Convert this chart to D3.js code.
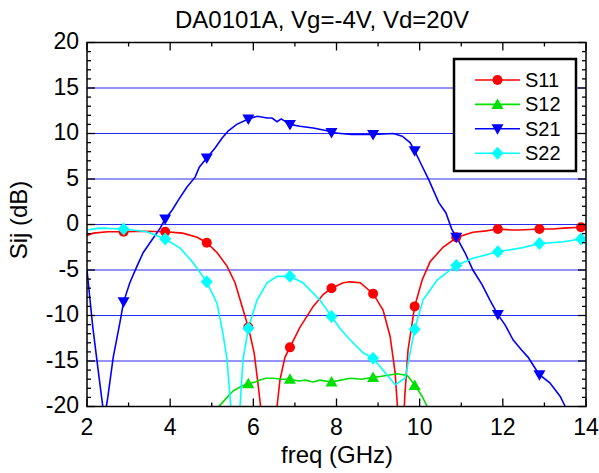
<!DOCTYPE html>
<html>
<head>
<meta charset="utf-8">
<script src="https://cdn.jsdelivr.net/npm/d3@7"></script>
<style>
body { margin: 0; background: #fff; }
svg text { font-family: "Liberation Sans", Arial, sans-serif; fill: #000; }
</style>
</head>
<body>
<svg id="chart" width="599" height="473"></svg>
<script>
// data (freq in GHz, values in dB)
var s11F = [2.0, 2.15, 2.5, 2.88, 3.4, 3.88, 4.3, 4.65, 4.88, 5.13, 5.37, 5.56, 5.73, 5.88, 6.02, 6.11, 6.2, 6.36, 6.5, 6.57, 6.64, 6.76, 6.88, 7.12, 7.44, 7.68, 7.88, 8.16, 8.33, 8.57, 8.88, 9.12, 9.29, 9.41, 9.48, 9.54, 9.6, 9.64, 9.72, 9.88, 10.06, 10.25, 10.56, 10.9, 11.28, 11.6, 11.88, 12.2, 12.41, 12.88, 13.2, 13.45, 13.88, 14.0];
var s11V = [-1.2, -0.95, -0.8, -0.8, -0.75, -0.8, -0.95, -1.4, -2.0, -3.1, -4.6, -6.4, -9.0, -11.3, -14.1, -17.4, -21, -35, -24, -20, -17.1, -14.6, -13.5, -11.3, -9.0, -7.7, -7.0, -6.4, -6.3, -6.4, -7.6, -9.4, -12.3, -16.3, -21, -30, -24, -19, -13.8, -9.0, -6.1, -4.1, -2.5, -1.4, -0.85, -0.7, -0.5, -0.6, -0.6, -0.5, -0.5, -0.4, -0.3, -0.3];
var s11MF = [2.88, 3.88, 4.88, 5.88, 6.88, 7.88, 8.88, 9.88, 10.88, 11.88, 12.88, 13.88];
var s11MV = [-0.8, -0.8, -2.0, -11.3, -13.5, -7.0, -7.6, -9.0, -1.4, -0.5, -0.5, -0.3];

var s12F = [5.1, 5.17, 5.37, 5.51, 5.7, 5.88, 6.05, 6.16, 6.3, 6.47, 6.7, 6.88, 7.1, 7.25, 7.44, 7.6, 7.88, 8.1, 8.33, 8.6, 8.88, 9.05, 9.2, 9.46, 9.7, 9.88, 10.06, 10.18, 10.25];
var s12V = [-21, -20, -19.0, -18.3, -17.8, -17.5, -17.3, -17.1, -16.9, -16.9, -17.0, -17.0, -17.2, -17.1, -17.3, -17.1, -17.3, -17.1, -16.9, -17.0, -16.8, -16.7, -16.6, -16.4, -16.6, -17.6, -18.9, -20, -21];
var s12MF = [5.88, 6.88, 7.88, 8.88, 9.88];
var s12MV = [-17.5, -17.0, -17.3, -16.8, -17.7];

var s21F = [2.0, 2.14, 2.26, 2.38, 2.43, 2.5, 2.63, 2.79, 2.88, 3.03, 3.2, 3.35, 3.56, 3.76, 3.88, 4.05, 4.2, 4.4, 4.6, 4.7, 4.88, 5.08, 5.25, 5.4, 5.6, 5.88, 6.1, 6.33, 6.45, 6.57, 6.67, 6.88, 7.12, 7.44, 7.77, 7.88, 8.1, 8.36, 8.88, 9.37, 9.58, 9.77, 9.88, 10.06, 10.22, 10.46, 10.63, 10.77, 10.9, 11.1, 11.28, 11.5, 11.69, 11.88, 12.05, 12.25, 12.45, 12.61, 12.75, 12.88, 13.13, 13.38, 13.5, 13.6];
var s21V = [-5, -11.3, -15.7, -20, -21, -19, -14.6, -10.8, -8.5, -6.4, -4.6, -3.1, -1.7, -0.4, 0.6, 1.6, 2.7, 4.1, 5.2, 6.3, 7.3, 8.4, 9.5, 10.3, 11.0, 11.6, 11.9, 11.7, 11.7, 11.3, 11.6, 11.0, 10.8, 10.6, 10.3, 10.1, 10.0, 9.9, 9.9, 10.0, 9.7, 9.0, 8.1, 6.4, 4.9, 2.4, 1.3, -0.5, -1.5, -3.2, -5.0, -6.6, -8.3, -9.9, -11.0, -12.7, -13.8, -14.6, -15.6, -16.5, -17.4, -18.9, -20, -21];
var s21MF = [2.88, 3.88, 4.88, 5.88, 6.88, 7.88, 8.88, 9.88, 10.88, 11.88, 12.88];
var s21MV = [-8.5, 0.6, 7.3, 11.6, 11.0, 10.1, 9.9, 8.1, -1.4, -9.9, -16.5];

var s22F = [2.0, 2.3, 2.88, 3.44, 3.88, 4.24, 4.55, 4.88, 5.13, 5.27, 5.37, 5.42, 5.46, 5.56, 5.65, 5.68, 5.75, 5.88, 6.09, 6.33, 6.57, 6.88, 7.19, 7.6, 7.88, 8.08, 8.33, 8.64, 8.88, 9.17, 9.41, 9.65, 9.88, 10.08, 10.42, 10.88, 11.28, 11.88, 12.41, 12.88, 13.45, 13.88, 14.0];
var s22V = [-0.6, -0.4, -0.5, -0.8, -1.6, -2.6, -4.2, -6.3, -8.7, -12, -14.9, -17.9, -20, -32, -22, -20, -14.9, -11.4, -8.3, -6.4, -5.7, -5.7, -6.4, -8.3, -10.1, -11.4, -12.7, -14.1, -14.7, -16.3, -17.6, -16.9, -11.5, -8.3, -6.1, -4.5, -3.7, -3.0, -2.6, -2.1, -1.9, -1.6, -1.5];
var s22MF = [2.88, 3.88, 4.88, 5.88, 6.88, 7.88, 8.88, 9.88, 10.88, 11.88, 12.88, 13.88];
var s22MV = [-0.5, -1.6, -6.3, -11.4, -5.7, -10.1, -14.7, -11.5, -4.5, -3.0, -2.1, -1.6];

var names = ["S11", "S12", "S21", "S22"];
var colors = ["#ff0000", "#00e000", "#0000ff", "#00ffff"];
var shapes = ["circle", "up", "down", "diamond"];
var xTicks = [2, 4, 6, 8, 10, 12, 14];
var yTicks = [-20, -15, -10, -5, 0, 5, 10, 15, 20];
var gridVals = [-15, -10, -5, 0, 5, 10, 15];

var series = [
	{f: s11F, v: s11V, mf: s11MF, mv: s11MV},
	{f: s12F, v: s12V, mf: s12MF, mv: s12MV},
	{f: s21F, v: s21V, mf: s21MF, mv: s21MV},
	{f: s22F, v: s22V, mf: s22MF, mv: s22MV}
];

var svg = d3.select("#chart");
var pLeft = 87, pRight = 586, pTop = 42.5, pBottom = 406.5;

var x = d3.scaleLinear().domain([2, 14]).range([pLeft, pRight]);
var y = d3.scaleLinear().domain([-20, 20]).range([pBottom, pTop]);

svg.append("defs").append("clipPath").attr("id", "clip")
	.append("rect").attr("x", pLeft).attr("y", pTop).attr("width", pRight-pLeft).attr("height", pBottom-pTop);

// grid
svg.selectAll(".grid").data(gridVals).enter().append("line")
	.attr("x1", pLeft).attr("x2", pRight)
	.attr("y1", function(d) { return y(d); }).attr("y2", function(d) { return y(d); })
	.style("stroke", "#2a2aee").style("stroke-width", 1);

function marker(g, shape, color, px, py) {
	if (shape == "circle") {
		g.append("circle").attr("cx", px).attr("cy", py).attr("r", 5).style("fill", color);
	} else if (shape == "up") {
		g.append("path").attr("d", "M" + px + "," + (py-6) + "L" + (px+6) + "," + (py+4.5) + "L" + (px-6) + "," + (py+4.5) + "Z").style("fill", color);
	} else if (shape == "down") {
		g.append("path").attr("d", "M" + px + "," + (py+6) + "L" + (px+6) + "," + (py-4.5) + "L" + (px-6) + "," + (py-4.5) + "Z").style("fill", color);
	} else {
		g.append("path").attr("d", "M" + px + "," + (py-6.5) + "L" + (px+6) + "," + py + "L" + px + "," + (py+6.5) + "L" + (px-6) + "," + py + "Z").style("fill", color);
	}
}

var plot = svg.append("g").attr("clip-path", "url(#clip)");
var line = d3.line().x(function(d) { return x(d[0]); }).y(function(d) { return y(d[1]); });

series.forEach(function(s, i) {
	var pts = s.f.map(function(f, k) { return [f, s.v[k]]; });
	plot.append("path").attr("d", line(pts))
		.style("fill", "none").style("stroke", colors[i]).style("stroke-width", 1.6);
});
series.forEach(function(s, i) {
	s.mf.forEach(function(f, k) {
		marker(plot, shapes[i], colors[i], x(f), y(s.mv[k]));
	});
});

// frame
svg.append("rect").attr("x", pLeft).attr("y", pTop).attr("width", pRight-pLeft).attr("height", pBottom-pTop)
	.style("fill", "none").style("stroke", "#000").style("stroke-width", 1.5);

// ticks inward on all sides
var xAll = d3.range(2, 14.01, 1);
xAll.forEach(function(v) {
	var len = (v % 2 == 0) ? 8 : 4;
	svg.append("line").attr("x1", x(v)).attr("x2", x(v)).attr("y1", pBottom).attr("y2", pBottom-len).style("stroke", "#000").style("stroke-width", 1.3);
	svg.append("line").attr("x1", x(v)).attr("x2", x(v)).attr("y1", pTop).attr("y2", pTop+len).style("stroke", "#000").style("stroke-width", 1.3);
});
var yAll = d3.range(-20, 20.01, 1);
yAll.forEach(function(v) {
	var len = (v % 5 == 0) ? 8 : 4;
	svg.append("line").attr("y1", y(v)).attr("y2", y(v)).attr("x1", pLeft).attr("x2", pLeft+len).style("stroke", "#000").style("stroke-width", 1.3);
	svg.append("line").attr("y1", y(v)).attr("y2", y(v)).attr("x1", pRight).attr("x2", pRight-len).style("stroke", "#000").style("stroke-width", 1.3);
});

// tick labels
svg.selectAll(".xl").data(xTicks).enter().append("text")
	.attr("x", function(d) { return x(d); }).attr("y", 435)
	.attr("text-anchor", "middle").style("font-size", "23px")
	.text(function(d) { return d; });
svg.selectAll(".yl").data(yTicks).enter().append("text")
	.attr("x", pLeft-8).attr("y", function(d) { return y(d) + 6.5; })
	.attr("text-anchor", "end").style("font-size", "23px")
	.text(function(d) { return d; });

// titles
svg.append("text").attr("x", 322).attr("y", 28).attr("text-anchor", "middle")
	.style("font-size", "24px").text("DA0101A, Vg=-4V, Vd=20V");
svg.append("text").attr("x", 337).attr("y", 463).attr("text-anchor", "middle")
	.style("font-size", "24px").text("freq (GHz)");
svg.append("text").attr("transform", "translate(27,220) rotate(-90)")
	.attr("text-anchor", "middle").style("font-size", "24px").text("Sij (dB)");

// legend
var lg = svg.append("g");
lg.append("rect").attr("x", 454).attr("y", 59).attr("width", 122).attr("height", 112)
	.style("fill", "#fff").style("stroke", "#000").style("stroke-width", 2.5);
names.forEach(function(n, i) {
	var ly = 80 + i * 24.4;
	lg.append("line").attr("x1", 475).attr("x2", 520).attr("y1", ly).attr("y2", ly)
		.style("stroke", colors[i]).style("stroke-width", 1.6);
	marker(lg, shapes[i], colors[i], 497.5, ly);
	lg.append("text").attr("x", 525).attr("y", ly + 7).style("font-size", "20px").text(n);
});
</script>
</body>
</html>
